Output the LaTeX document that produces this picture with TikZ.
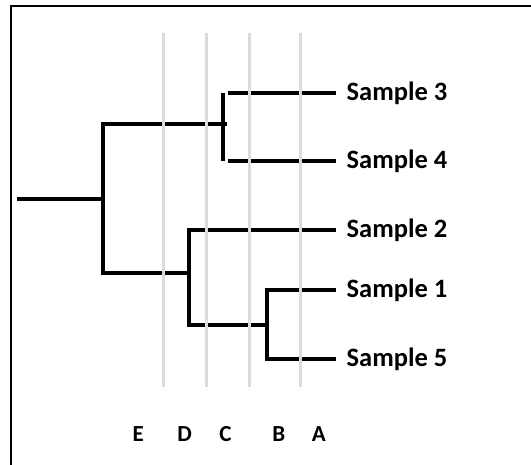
\documentclass[tikz,border=0pt]{standalone}
\usepackage{fontspec}
\setmainfont{Carlito}
\begin{document}
\begin{tikzpicture}[x=1pt,y=-1pt,
  branch/.style={draw=black,line width=3.8pt,line join=miter,line cap=butt},
  level/.style={draw=black!14,line width=3pt},
  leaf/.style={anchor=base west,inner sep=0pt,font=\fontsize{26.5}{26.5}\selectfont\bfseries},
  axislabel/.style={anchor=base,inner sep=0pt,font=\fontsize{23}{23}\selectfont\bfseries}]
\useasboundingbox (0,0) rectangle (531,464);
\fill[white] (0,0) rectangle (531,464);
% frame
\draw[line width=2pt] (11,480) -- (11,6) -- (550,6);

% junctions of the tree
\coordinate (root) at (17,199.3);
\coordinate (n0top) at (103,124);
\coordinate (n0bot) at (103,272.7);
\coordinate (n0mid) at (103,199.3);
\coordinate (n34) at (223,124);
\coordinate (n34a) at (223,93);
\coordinate (n34b) at (223,161);
\coordinate (n215) at (189,272.7);
\coordinate (n215a) at (189,230);
\coordinate (n215b) at (189,325);
\coordinate (n15) at (266.7,325);
\coordinate (n15a) at (266.7,290);
\coordinate (n15b) at (266.7,359.3);

% leaf labels
\node[leaf] (s3) at (346.5,100) {Sample 3};
\node[leaf] (s4) at (346.5,168) {Sample 4};
\node[leaf] (s2) at (346.5,237) {Sample 2};
\node[leaf] (s1) at (346.5,297) {Sample 1};
\node[leaf] (s5) at (346.5,366.3) {Sample 5};
\coordinate (e3) at (336,93);
\coordinate (e4) at (336,161);
\coordinate (e2) at (336,230);
\coordinate (e1) at (336,290);
\coordinate (e5) at (336,359.3);

% branches
\draw[branch] (root) -- (n0mid);
\draw[branch] ([xshift=4pt]n34) -- (n0top) -- (n0bot) -- (n215);
\draw[branch] (n34a) -- (n34b);
\draw[branch] ([xshift=5pt]n34a) -- (e3);
\draw[branch] ([xshift=5pt]n34b) -- (e4);
\draw[branch] (e2) -- (n215a) -- (n215b) -- (n15);
\draw[branch] (e1) -- (n15a) -- (n15b) -- (e5);

% level lines
\foreach \x in {163.5,206.3,249.2,300.8}
  \draw[level] (\x,33.3) -- (\x,386.7);

% level letters
\node[axislabel] (lE) at (138.3,441.7) {E};
\node[axislabel] (lD) at (184.7,441.7) {D};
\node[axislabel] (lC) at (225.5,441.7) {C};
\node[axislabel] (lB) at (278.8,441.7) {B};
\node[axislabel] (lA) at (318.8,441.7) {A};
\end{tikzpicture}
\end{document}
